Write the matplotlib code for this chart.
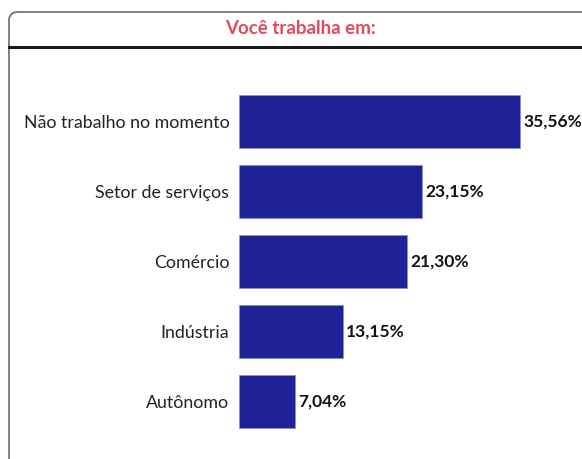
import numpy as np
import matplotlib.pyplot as plt
from matplotlib.lines import Line2D

plt.rcParams['font.family'] = ['Lato', 'DejaVu Sans']

# dados
categorias = ['Não trabalho no momento', 'Setor de serviços', 'Comércio', 'Indústria', 'Autônomo']
valores = [35.56, 23.15, 21.30, 13.15, 7.04]
rotulos = ['35,56%', '23,15%', '21,30%', '13,15%', '7,04%']

W, H = 582, 459
fig = plt.figure(figsize=(W / 100, H / 100), dpi=100)

# moldura do painel: borda esquerda + topo com canto arredondado
r = 8
t = np.linspace(np.pi, np.pi / 2, 20)
bx = [9, 9] + list(9 + r + r * np.cos(t)) + [W + 5]
by = [H + 5, 12 + r] + list(12 + r - r * np.sin(t)) + [12]
fig.lines.append(Line2D(np.array(bx) / W, 1 - np.array(by) / H, transform=fig.transFigure,
                        color='#6b6b6b', linewidth=1.2))
fig.lines.append(Line2D([9 / W, 1], [1 - 47 / H, 1 - 47 / H], transform=fig.transFigure,
                        color='#1a1a1a', linewidth=2.2))
fig.text(300 / W, 1 - 28 / H, 'Você trabalha em:', ha='center', va='center',
         color='#e34b5c', fontsize=13.5, fontweight='bold')

# eixo: 7.9 px por ponto percentual, barras a cada 70 px
x0, y_top = 239, 86.5
ax = fig.add_axes([x0 / W, 1 - (y_top + 350) / H, 316 / W, 350 / H])
pos = list(range(len(categorias)))
ax.barh(pos, valores, height=0.757, color='#1e2296', edgecolor='#8a8ed0', linewidth=0.6)
ax.set_xlim(0, 40)
ax.set_ylim(4.5, -0.5)
ax.set_yticks(pos)
ax.set_yticklabels(categorias, fontsize=12.8, color='#222222')
ax.tick_params(axis='y', length=0, pad=7)
ax.set_xticks([])
for s in ax.spines.values():
    s.set_visible(False)
ax.patch.set_alpha(0)

for p, v, lab in zip(pos, valores, rotulos):
    ax.annotate(lab, (v, p), xytext=(2.5, 0), textcoords='offset points',
                va='center', ha='left', fontsize=12.5, fontweight='bold', color='#111111')

fig.savefig('out.png', dpi=100)
